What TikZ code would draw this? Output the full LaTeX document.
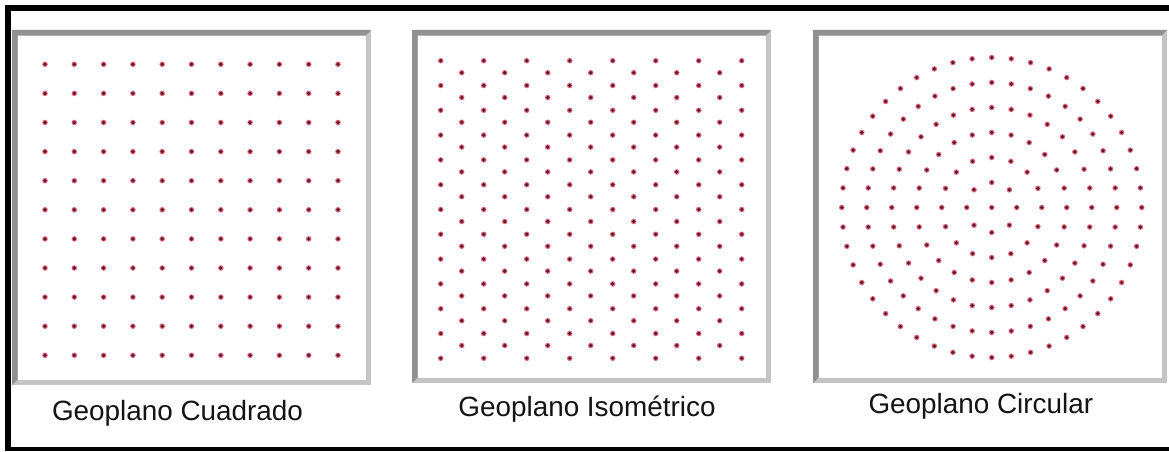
\documentclass[tikz,border=0pt]{standalone}
\usepackage{fontspec}
\setmainfont{Liberation Sans}
\usetikzlibrary{calc}
\definecolor{bevlight}{RGB}{196,196,196}
\definecolor{bevdark}{RGB}{145,145,145}
\definecolor{halo}{RGB}{235,105,125}
\definecolor{core}{RGB}{85,28,48}
\definecolor{txt}{RGB}{20,20,20}
\tikzset{
  frame/.style={fill=black},
  outerbev/.style={fill=bevlight},
  darkbev/.style={fill=bevdark},
  board/.style={fill=white},
  label/.style={anchor=base, inner sep=0pt, text=txt, font=\fontsize{20.9}{25}\selectfont},
}
\newcommand{\gdot}[2]{\fill[halo] (#1,#2) circle (2.1pt); \fill[core] (#1,#2) circle (1.4pt);}
\newcommand{\geopanel}[5]{%
  \coordinate (#1-nw) at (#2,#3);
  \coordinate (#1-se) at (#4,#5);
  \fill[outerbev] (#1-nw) rectangle (#1-se);
  \fill[darkbev] (#1-nw) -- (#4,#3) -- ($(#4,#3)+(-5.5,5.5)$) -- ($(#1-nw)+(5.5,5.5)$) -- ($(#2,#5)+(5.5,-5.5)$) -- (#2,#5) -- cycle;
  \fill[board] ($(#1-nw)+(5.5,6.5)$) rectangle ($(#1-se)+(-5,-5)$);
}
\begin{document}
\begin{tikzpicture}[x=0.75pt,y=-0.75pt]
\useasboundingbox (0,0) rectangle (1169,452);
\fill[white] (0,0) rectangle (1169,452);
% outer black frame
\fill[frame] (5,5) rectangle (1169,11.5);
\fill[frame] (5,5) rectangle (10.5,451);
\fill[frame] (5,446.5) rectangle (1169,451);
% panels
\geopanel{p1}{12}{30}{371}{385}
\geopanel{p2}{412}{30}{771}{383}
\geopanel{p3}{813}{30}{1167}{383}
% square geoboard
\foreach \i in {0,...,10}{
  \foreach \j in {0,...,10}{
    \gdot{45+29.3*\i}{64.3+29.1*\j}
  }
}
% isometric geoboard
\foreach \m in {0,...,7}{
  \foreach \j in {0,...,12}{
    \gdot{440.7+43*\m}{60.7+24.8*\j}
  }
}
\foreach \m in {0,...,6}{
  \foreach \j in {0,...,11}{
    \gdot{461.7+43*\m}{72.7+24.8*\j}
  }
}
% circular geoboard
\begin{scope}[shift={(991.7,207.5)}]
  \gdot{0}{0}
  \foreach \k in {1,...,6}{
    \pgfmathtruncatemacro{\n}{8*\k}
    \pgfmathsetmacro{\st}{360/\n}
    \foreach \i in {1,...,\n}{
      \pgfmathsetmacro{\a}{90+\st*\i}
      \pgfmathsetmacro{\r}{25*\k}
      \fill[halo] (\a:\r) circle (2.1pt);
      \fill[core] (\a:\r) circle (1.4pt);
    }
  }
\end{scope}
% labels
\node[label] (l1) at (177.5,420) {Geoplano Cuadrado};
\node[label] (l2) at (587,416) {Geoplano Isométrico};
\node[label] (l3) at (980.8,413) {Geoplano Circular};
\end{tikzpicture}
\end{document}
